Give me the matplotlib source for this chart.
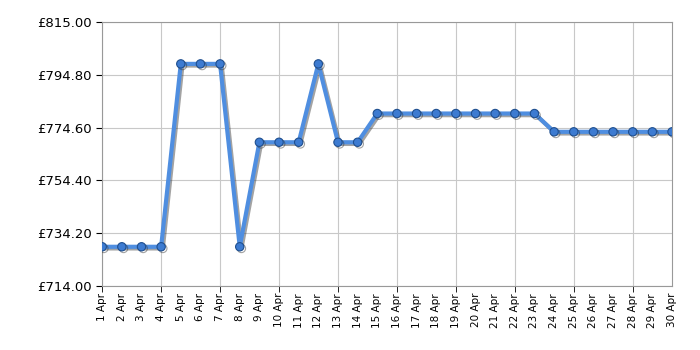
import matplotlib
matplotlib.use("Agg")
import matplotlib.pyplot as plt
import matplotlib.patheffects as pe
import numpy as np

days = list(range(1, 31))
day_labels = ["%d Apr" % d for d in days]
prices = [728.99, 728.99, 728.99, 728.99, 798.99, 798.99, 798.99, 728.99,
          768.99, 768.99, 768.99, 798.99, 768.99, 768.99, 779.99, 779.99,
          779.99, 779.99, 779.99, 779.99, 779.99, 779.99, 779.99, 772.99,
          772.99, 772.99, 772.99, 772.99, 772.99, 772.99]
y_ticks = [714.0, 734.2, 754.4, 774.6, 794.8, 815.0]

fig = plt.figure(figsize=(7, 3.5), dpi=100)
ax = fig.add_axes([0.146, 0.183, 0.814, 0.754])

line_fx = [pe.SimpleLineShadow(offset=(1.2, -1.2), shadow_color="#333333", alpha=0.45),
           pe.Normal()]
ax.plot(days, prices, color="#4f8ee0", lw=3, zorder=3,
        marker="o", markersize=6, markerfacecolor="#3d7bd1",
        markeredgecolor="#1f4f8f", markeredgewidth=0.8,
        path_effects=line_fx)

ax.set_xlim(1, 30)
ax.set_ylim(714, 815)
ax.set_yticks(y_ticks)
ax.set_yticklabels(["£%.2f" % v for v in y_ticks], fontsize=9.5)

# labels every day, grid and tick marks every third day
ax.xaxis.remove_overlapping_locs = False
ax.set_xticks(days)
ax.set_xticklabels(day_labels, rotation=90, fontsize=7.5)
ax.set_xticks(days[::3], minor=True)
ax.tick_params(axis="x", which="major", length=0, pad=5)
ax.tick_params(axis="x", which="minor", length=4, color="black")
ax.tick_params(axis="y", length=4, color="black")
ax.grid(True, axis="x", which="minor", color="#c8c8c8", lw=0.8)
ax.grid(True, axis="y", which="major", color="#c8c8c8", lw=0.8)
ax.set_axisbelow(True)

for s in ax.spines.values():
    s.set_color("#999999")

fig.savefig("out.png", dpi=100)
